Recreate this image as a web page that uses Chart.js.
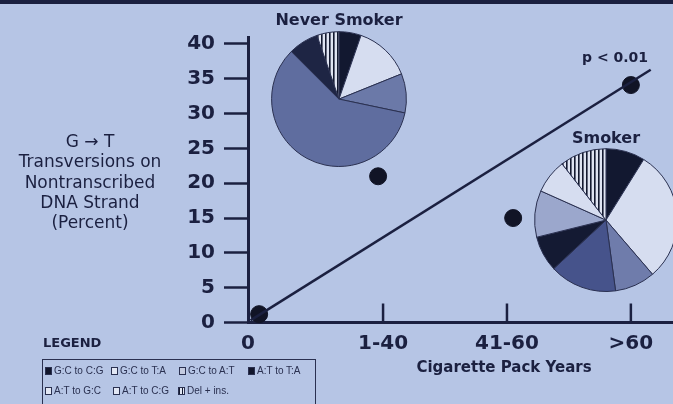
<!DOCTYPE html>
<html lang="en">
<head>
<meta charset="UTF-8">
<title>G to T transversions by cigarette pack years</title>
<script src="https://cdn.jsdelivr.net/npm/chart.js"></script>
<style>
    body {
        margin: 0;
        background: #b6c5e5;
        font-family: 'DejaVu Sans', sans-serif;
        color: #1b2040;
    }
    #wrap { position: relative; width: 673px; height: 404px; overflow: hidden; }
    #topBar { position: absolute; left: 0; top: 0; width: 673px; height: 4px; background: #1b2040; }
    #mainChart { position: absolute; left: 0; top: 0; }
    #neverPie { position: absolute; left: 269px; top: 8px; }
    #smokerPie { position: absolute; left: 534px; top: 126px; }
    .label { position: absolute; white-space: nowrap; }
    #yTitle {
        left: 0; top: 131px; width: 180px;
        text-align: center; font-size: 17px; line-height: 20.3px;
    }
    #xTitle { left: 404px; top: 358px; width: 200px; text-align: center; font-size: 15px; font-weight: bold; }
    #pValue { left: 582px; top: 49px; font-size: 14px; font-weight: bold; }
    #legendHead { left: 43px; top: 335px; font-size: 13px; font-weight: bold; }
    #legendBox {
        position: absolute; left: 42px; top: 359px; width: 274px; height: 60px;
        border: 1.5px solid #2a3050; box-sizing: border-box;
    }
    .item { position: absolute; font-family: 'Liberation Sans', sans-serif; font-size: 10px; color: #2a3050; line-height: 10px; }
    .sw { display: inline-block; width: 7px; height: 8px; border: 1px solid #2a3050; box-sizing: border-box; margin-right: 2px; vertical-align: -1px; }
</style>
</head>
<body>
<div id="wrap">
    <canvas id="mainChart" width="673" height="404"></canvas>
    <canvas id="neverPie" width="140" height="159"></canvas>
    <canvas id="smokerPie" width="144" height="166"></canvas>
    <div id="topBar"></div>

    <div class="label" id="yTitle">G → T<br>Transversions on<br>Nontranscribed<br>DNA Strand<br>(Percent)</div>
    <div class="label" id="xTitle">Cigarette Pack Years</div>
    <div class="label" id="pValue">p &lt; 0.01</div>

    <div class="label" id="legendHead">LEGEND</div>
    <div id="legendBox"></div>
    <div id="legendItems"></div>
</div>

<script>
    // x categories and measured percentages
    const packYearLabels = ['0', '1-40', '41-60', '>60'];
    const packYearPos = [0, 0.96, 2.05, 3];
    const transversionPct = [1.2, 21, 15, 34.1];

    // regression line end points
    const fitLineX = [-0.07, 3.16];
    const fitLineY = [0.3, 36.3];

    const yTickValues = [0, 5, 10, 15, 20, 25, 30, 35, 40];
    const xTickValues = [1, 2, 3];

    // pie slices, clockwise from 12 o'clock (percent)
    const neverLabels = ['G:C to C:G', 'G:C to T:A', 'A:T to G:C', 'G:C to A:T', 'A:T to T:A', 'Del + ins.'];
    const neverShares = [5.3, 13.6, 9.4, 59.2, 7.2, 5.3];
    const smokerLabels = ['G:C to C:G', 'G:C to T:A', 'A:T to G:C', 'G:C to A:T', 'A:T to T:A', 'A:T to C:G', 'A:T to G:C', 'Del + ins.'];
    const smokerShares = [8.9, 30, 9.2, 15.3, 8.1, 10.6, 7.8, 10.6];

    // legend
    const legendNames = ['G:C to C:G', 'G:C to T:A', 'G:C to A:T', 'A:T to T:A', 'A:T to G:C', 'A:T to C:G', 'Del + ins.'];

    const ink = '#1b2040';

    // vertical stripes for Del + ins.
    function stripePattern() {
        const c = document.createElement('canvas');
        c.width = 4; c.height = 4;
        const g = c.getContext('2d');
        g.fillStyle = '#dfe4f2';
        g.fillRect(0, 0, 4, 4);
        g.fillStyle = '#141a30';
        g.fillRect(0, 0, 1.6, 4);
        return g.createPattern(c, 'repeat');
    }
    const stripes = stripePattern();

    const neverColors = ['#121830', '#d6ddf0', '#6b79a8', '#5f6d9f', '#1e2544', stripes];
    const smokerColors = ['#121830', '#d6ddf0', '#6f7cab', '#46538b', '#141a33', '#9ba7cc', '#d6ddf0', stripes];
    const legendFills = ['#12162c', '#e2e7f4', '#c4cbe0', '#12162c', '#e2e7f4', '#e2e7f4', stripes];

    // tick marks on the x axis point up into the plot
    const upTicks = {
        id: 'upTicks',
        afterDraw(chart) {
            const ctx = chart.ctx;
            const xs = chart.scales.x;
            const bottom = chart.chartArea.bottom;
            ctx.save();
            ctx.strokeStyle = ink;
            ctx.lineWidth = 2.5;
            xTickValues.forEach(v => {
                const px = xs.getPixelForValue(v);
                ctx.beginPath();
                ctx.moveTo(px, bottom);
                ctx.lineTo(px, bottom - 19);
                ctx.stroke();
            });
            ctx.restore();
        }
    };

    new Chart(document.getElementById('mainChart'), {
        type: 'scatter',
        data: {
            datasets: [
                {
                    type: 'line',
                    data: fitLineX.map((x, i) => ({ x: x, y: fitLineY[i] })),
                    borderColor: ink,
                    borderWidth: 2.5,
                    pointRadius: 0,
                    clip: false
                },
                {
                    data: packYearPos.map((x, i) => ({ x: x, y: transversionPct[i] })),
                    backgroundColor: '#111426',
                    borderColor: '#111426',
                    pointRadius: 8.5,
                    clip: false
                }
            ]
        },
        options: {
            responsive: false,
            animation: false,
            layout: { autoPadding: false, padding: { left: 0, top: 37, right: 0, bottom: 0 } },
            plugins: { legend: { display: false }, tooltip: { enabled: false } },
            scales: {
                x: {
                    type: 'linear',
                    min: -0.09,
                    max: 3.34,
                    afterBuildTicks: s => { s.ticks = [{ value: s.min }].concat(xTickValues.map(v => ({ value: v }))); },
                    afterFit: s => { s.height = 81.5; s.paddingLeft = 0; s.paddingRight = 0; },
                    grid: { drawOnChartArea: false, drawTicks: false },
                    border: { color: ink, width: 3 },
                    ticks: {
                        padding: 9,
                        color: ink,
                        font: { family: 'DejaVu Sans', size: 20, weight: 'bold' },
                        callback: (v, i) => packYearLabels[i]
                    }
                },
                y: {
                    min: 0,
                    max: 41,
                    afterBuildTicks: s => { s.ticks = yTickValues.map(v => ({ value: v })); },
                    afterFit: s => { s.width = 248; s.paddingTop = 0; s.paddingBottom = 0; },
                    grid: { drawOnChartArea: false, tickLength: 24, tickColor: ink, tickWidth: 2.5 },
                    border: { color: ink, width: 3 },
                    ticks: {
                        padding: 9,
                        color: ink,
                        font: { family: 'DejaVu Sans', size: 20, weight: 'bold' }
                    }
                }
            }
        },
        plugins: [upTicks]
    });

    function makePie(id, title, labels, shares, colors, padTop, padBottom) {
        new Chart(document.getElementById(id), {
            type: 'pie',
            data: {
                labels: labels,
                datasets: [{
                    data: shares,
                    backgroundColor: colors,
                    borderColor: '#2a3050',
                    borderWidth: 1
                }]
            },
            options: {
                responsive: false,
                animation: false,
                layout: { padding: 0 },
                plugins: {
                    legend: { display: false },
                    tooltip: { enabled: false },
                    title: {
                        display: true,
                        text: title,
                        color: ink,
                        font: { family: 'DejaVu Sans', size: 16, weight: 'bold' },
                        padding: { top: padTop, bottom: padBottom }
                    }
                }
            }
        });
    }
    makePie('neverPie', 'Never Smoker', neverLabels, neverShares, neverColors, 3, 1);
    makePie('smokerPie', 'Smoker', smokerLabels, smokerShares, smokerColors, 3, 0);

    // legend items
    const legendLeft = [45, 111, 179, 248, 45, 113, 178];
    const legendTop = [366, 366, 366, 366, 386, 386, 386];
    const holder = document.getElementById('legendItems');
    legendNames.forEach((name, i) => {
        const item = document.createElement('div');
        item.className = 'item';
        item.style.left = legendLeft[i] + 'px';
        item.style.top = legendTop[i] + 'px';
        const sw = document.createElement('span');
        sw.className = 'sw';
        if (legendFills[i] === stripes) {
            sw.style.background = 'repeating-linear-gradient(90deg, #141a30 0 1.5px, #e2e7f4 1.5px 3px)';
        } else {
            sw.style.background = legendFills[i];
        }
        item.appendChild(sw);
        item.appendChild(document.createTextNode(name));
        holder.appendChild(item);
    });
</script>
</body>
</html>
